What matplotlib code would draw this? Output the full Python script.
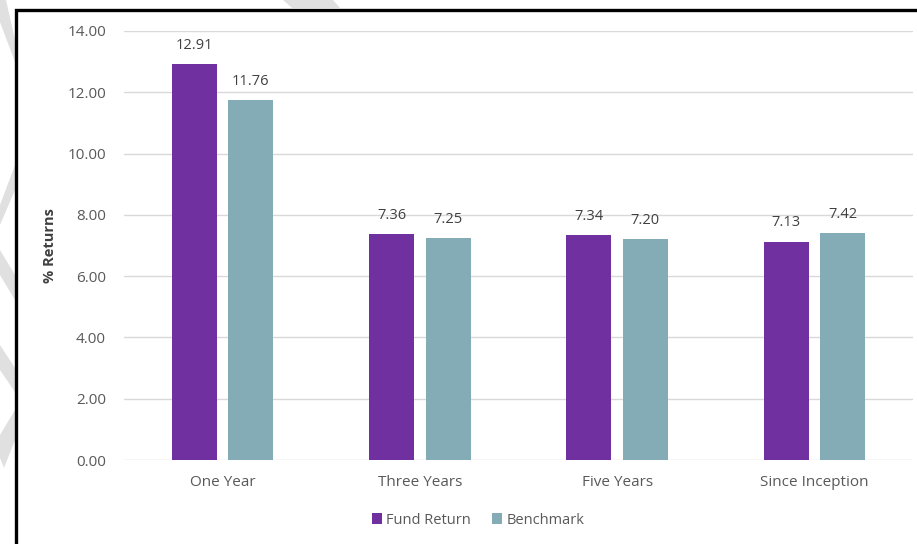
import matplotlib

matplotlib.use("Agg")
import matplotlib.pyplot as plt
import numpy as np
from matplotlib.patches import Polygon, Rectangle

categories = ["One Year", "Three Years", "Five Years", "Since Inception"]
fund_return = [12.91, 7.36, 7.34, 7.13]
benchmark = [11.76, 7.25, 7.20, 7.42]
series_names = ["Fund Return", "Benchmark"]
y_ticks = [0, 2, 4, 6, 8, 10, 12, 14]

PURPLE = "#7030A0"
TEAL = "#84ACB6"
TEXT_GREY = "#595959"
GRID_GREY = "#D9D9D9"

W, H = 917, 544
plt.rcParams["font.family"] = ["Open Sans", "DejaVu Sans"]

fig = plt.figure(figsize=(W / 100, H / 100), dpi=100)
fig.patch.set_facecolor("white")


def px(x, y):
    """Pixel coords (top-left origin) to figure fraction."""
    return x / W, 1 - y / H


# faint page stripes outside the frame
stripes = [
    [(0, 0), (6, 0), (15, 40), (15, 62), (0, 22)],
    [(283, 0), (333, 0), (340, 8), (292, 8)],
    [(15, 165), (15, 190), (0, 225), (0, 205)],
    [(0, 250), (15, 275), (15, 300), (0, 275)],
    [(0, 345), (15, 368), (15, 392), (0, 370)],
    [(15, 410), (15, 440), (4, 468), (0, 458), (0, 435)],
]
for pts in stripes:
    fig.patches.append(
        Polygon([px(x, y) for x, y in pts], closed=True, transform=fig.transFigure,
                facecolor="#E0E0E0", edgecolor="none", zorder=0)
    )

# black frame (runs off the right and bottom edges)
x0, y1 = px(15.5, 9.5)
fig.patches.append(
    Rectangle((x0, -0.05), 1.1, y1 + 0.05, transform=fig.transFigure,
              facecolor="white", edgecolor="black", linewidth=2.4, zorder=1)
)

ax_left, ax_top = px(124, 31)
ax_right, ax_bottom = px(913, 460)
ax = fig.add_axes([ax_left, ax_bottom, ax_right - ax_left, ax_top - ax_bottom])
ax.set_facecolor("none")
ax.set_zorder(2)

x = np.arange(len(categories))
width = 0.228
offset = 0.143
bars_fund = ax.bar(x - offset, fund_return, width, color=PURPLE, label=series_names[0], zorder=3)
bars_bench = ax.bar(x + offset, benchmark, width, color=TEAL, label=series_names[1], zorder=3)

for bars in (bars_fund, bars_bench):
    for bar in bars:
        ax.annotate(f"{bar.get_height():.2f}",
                    (bar.get_x() + bar.get_width() / 2, bar.get_height()),
                    xytext=(0, 8), textcoords="offset points",
                    ha="center", va="bottom", fontsize=10.5, color="#404040")

ax.set_xlim(-0.5, len(categories) - 0.5)
ax.set_ylim(0, 14)
ax.set_yticks(y_ticks)
ax.set_yticklabels([f"{v:.2f}" for v in y_ticks])
ax.set_xticks(x)
ax.set_xticklabels(categories)
ax.tick_params(axis="both", length=0, labelsize=11, labelcolor=TEXT_GREY)
ax.tick_params(axis="y", pad=13)
ax.tick_params(axis="x", pad=11)
ax.grid(axis="y", color=GRID_GREY, linewidth=1.0, zorder=0)
ax.set_axisbelow(True)
for spine in ax.spines.values():
    spine.set_visible(False)

ax.set_ylabel("% Returns", fontsize=10.5, fontweight="bold", color="#404040")
ax.yaxis.set_label_coords(-(124 - 57) / 789, 0.5)

lx, ly = px(478, 520)
ax.legend(loc="center", bbox_to_anchor=(lx, ly),
          bbox_transform=fig.transFigure, ncol=2, frameon=False,
          fontsize=10.5, labelcolor=TEXT_GREY, handlelength=0.7, handleheight=0.7,
          handletextpad=0.3, columnspacing=1.4)

fig.savefig("out.png", dpi=100)
